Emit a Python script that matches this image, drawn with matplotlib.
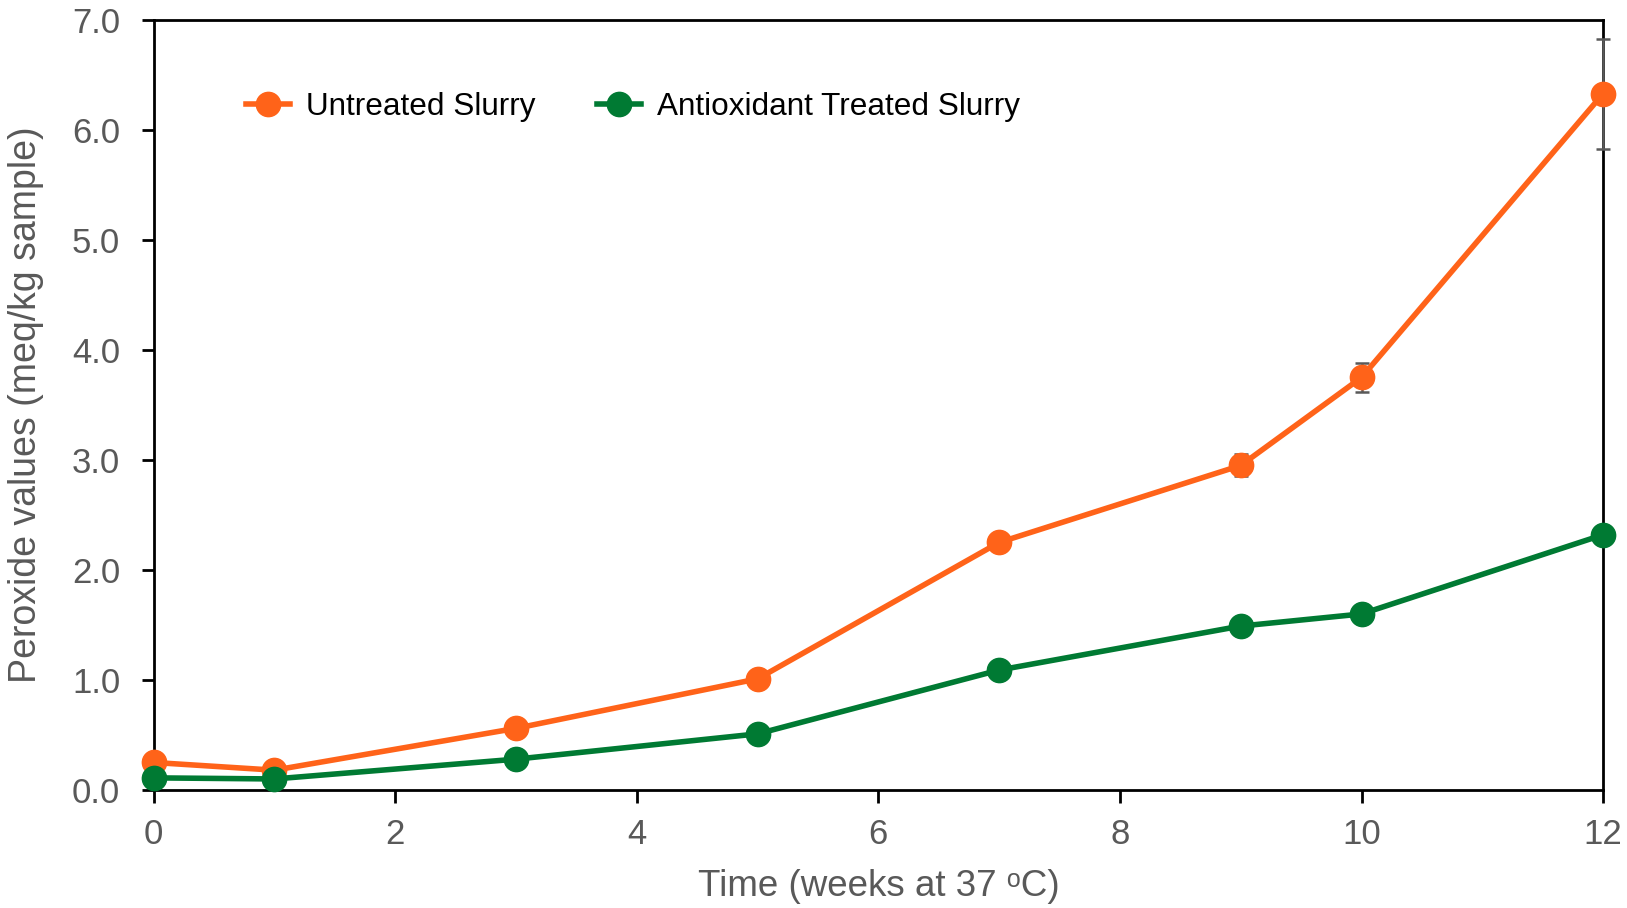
import matplotlib.pyplot as plt

weeks = [0, 1, 3, 5, 7, 9, 10, 12]
untreated = [0.25, 0.18, 0.56, 1.01, 2.25, 2.95, 3.75, 6.33]
untreated_err = [0.02, 0.02, 0.02, 0.03, 0.04, 0.10, 0.13, 0.50]
treated = [0.11, 0.10, 0.28, 0.51, 1.09, 1.49, 1.60, 2.32]
treated_err = [0.02, 0.02, 0.02, 0.02, 0.03, 0.03, 0.03, 0.04]

xticks = [0, 2, 4, 6, 8, 10, 12]
yticks = [0, 1, 2, 3, 4, 5, 6, 7]

ORANGE = "#FF6319"
GREEN = "#007A33"
GREY = "#595959"

plt.rcParams["font.family"] = ["Liberation Sans", "DejaVu Sans"]

fig = plt.figure(figsize=(16.27, 9.08), dpi=100)
ax = fig.add_axes([0.0944, 0.13, 0.8909, 0.848])

for y, err, color, label in [(untreated, untreated_err, ORANGE, "Untreated Slurry"),
                             (treated, treated_err, GREEN, "Antioxidant Treated Slurry")]:
    ax.errorbar(weeks, y, yerr=err, fmt="none", ecolor=GREY, elinewidth=1.8,
                capsize=5, capthick=1.8, zorder=3, clip_on=False)
    ax.plot(weeks, y, color=color, lw=4, marker="o", markersize=17.5,
            label=label, zorder=4, clip_on=False)

ax.set_xlim(0, 12)
ax.set_ylim(0, 7)
ax.set_xticks(xticks)
ax.set_yticks(yticks)
ax.set_yticklabels([f"{v:.1f}" for v in yticks])

for side in ["left", "right", "top", "bottom"]:
    ax.spines[side].set_linewidth(2)
    ax.spines[side].set_color("black")
ax.tick_params(axis="both", direction="out", length=9, width=2, color="black",
               labelsize=25, labelcolor=GREY)
ax.tick_params(axis="y", pad=15)
ax.tick_params(axis="x", pad=11)

ax.set_xlabel("Time (weeks at 37 \u1d52C)", fontsize=26.5, color=GREY, labelpad=13)
ax.set_ylabel("Peroxide values (meq/kg sample)", fontsize=27, color=GREY, labelpad=20)

ax.legend(loc="upper left", bbox_to_anchor=(0.044, 0.943), ncol=2, frameon=False,
          handlelength=1.4, handletextpad=0.5, columnspacing=1.95,
          prop={"size": 22.7})

fig.savefig("out.png", dpi=100)
plt.close(fig)
